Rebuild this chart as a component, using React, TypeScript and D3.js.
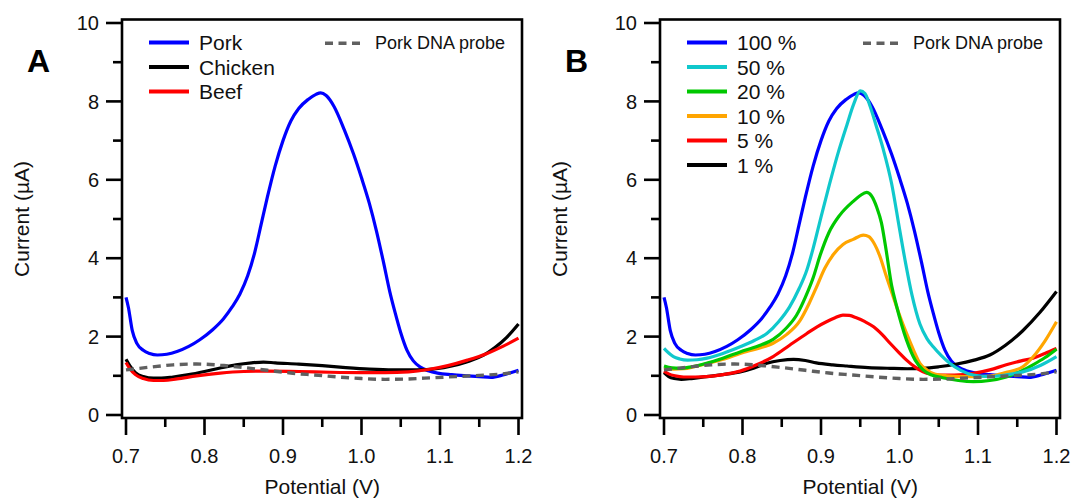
import React from "react";
import * as d3 from "d3";

type Pt = [number, number];

// Potential (V), current (µA) pairs
const pork: Pt[] = [
  [0.700, 3.00], [0.703, 2.75], [0.708, 2.15], [0.714, 1.82], [0.722, 1.65], [0.730, 1.57],
  [0.740, 1.53], [0.752, 1.55], [0.765, 1.62], [0.780, 1.75], [0.794, 1.92], [0.810, 2.17],
  [0.824, 2.45], [0.835, 2.75], [0.845, 3.08], [0.855, 3.55], [0.864, 4.15], [0.872, 4.85],
  [0.880, 5.55], [0.890, 6.35], [0.900, 7.00], [0.910, 7.50], [0.920, 7.82], [0.932, 8.05],
  [0.942, 8.18], [0.948, 8.22], [0.955, 8.15], [0.965, 7.87], [0.978, 7.28], [0.990, 6.65],
  [1.000, 6.05], [1.010, 5.40], [1.019, 4.70], [1.028, 3.90], [1.036, 3.15], [1.043, 2.60],
  [1.050, 2.10], [1.058, 1.65], [1.066, 1.38], [1.075, 1.22], [1.085, 1.13], [1.097, 1.07],
  [1.115, 1.03], [1.135, 1.00], [1.150, 0.98], [1.165, 0.96], [1.180, 1.02], [1.190, 1.08],
  [1.200, 1.14],
];

const chicken: Pt[] = [
  [0.700, 1.42], [0.705, 1.25], [0.712, 1.08], [0.722, 0.98], [0.735, 0.94], [0.745, 0.94],
  [0.760, 0.97], [0.780, 1.03], [0.800, 1.11], [0.820, 1.20], [0.840, 1.28], [0.860, 1.33],
  [0.875, 1.35], [0.890, 1.33], [0.920, 1.30], [0.950, 1.26], [0.980, 1.21], [1.010, 1.17],
  [1.040, 1.15], [1.070, 1.15], [1.095, 1.18], [1.115, 1.25], [1.135, 1.36], [1.155, 1.52],
  [1.170, 1.72], [1.185, 1.98], [1.200, 2.32],
];

const beef: Pt[] = [
  [0.700, 1.34], [0.705, 1.18], [0.712, 1.03], [0.722, 0.93], [0.735, 0.88], [0.748, 0.88],
  [0.765, 0.92], [0.790, 1.00], [0.820, 1.07], [0.850, 1.11], [0.880, 1.12], [0.920, 1.11],
  [0.960, 1.09], [1.000, 1.08], [1.030, 1.08], [1.060, 1.10], [1.085, 1.16], [1.110, 1.26],
  [1.135, 1.40], [1.160, 1.57], [1.180, 1.75], [1.200, 1.96],
];

const probe: Pt[] = [
  [0.700, 1.15], [0.730, 1.22], [0.760, 1.28], [0.790, 1.30], [0.820, 1.27], [0.850, 1.21],
  [0.880, 1.14], [0.910, 1.07], [0.940, 1.02], [0.970, 0.97], [1.000, 0.93], [1.030, 0.91],
  [1.060, 0.92], [1.090, 0.95], [1.120, 0.98], [1.150, 1.01], [1.175, 1.04], [1.200, 1.10],
];

const pct50: Pt[] = [
  [0.700, 1.70], [0.706, 1.58], [0.712, 1.49], [0.720, 1.43], [0.730, 1.40], [0.742, 1.41],
  [0.755, 1.45], [0.775, 1.57], [0.797, 1.74], [0.815, 1.90], [0.831, 2.08], [0.846, 2.38],
  [0.860, 2.76], [0.872, 3.22], [0.882, 3.70], [0.890, 4.25], [0.900, 5.05], [0.911, 5.90],
  [0.922, 6.70], [0.933, 7.40], [0.942, 7.95], [0.950, 8.27], [0.956, 8.20], [0.962, 7.91],
  [0.970, 7.40], [0.979, 6.80], [0.990, 5.90], [1.000, 4.75], [1.008, 3.85], [1.016, 3.05],
  [1.026, 2.32], [1.035, 1.95], [1.043, 1.74], [1.053, 1.52], [1.064, 1.32], [1.078, 1.14],
  [1.094, 1.02], [1.115, 0.98], [1.135, 1.02], [1.157, 1.10], [1.180, 1.27], [1.200, 1.49],
];

const pct20: Pt[] = [
  [0.700, 1.25], [0.710, 1.20], [0.720, 1.19], [0.735, 1.23], [0.754, 1.32], [0.775, 1.45],
  [0.797, 1.61], [0.820, 1.76], [0.839, 1.93], [0.855, 2.20], [0.869, 2.55], [0.880, 3.00],
  [0.890, 3.50], [0.899, 4.08], [0.910, 4.65], [0.924, 5.10], [0.941, 5.45], [0.950, 5.60],
  [0.958, 5.68], [0.964, 5.60], [0.971, 5.30], [0.977, 4.90], [0.983, 4.20], [0.990, 3.30],
  [0.996, 2.80], [1.009, 1.91], [1.020, 1.40], [1.030, 1.15], [1.041, 1.02], [1.055, 0.95],
  [1.075, 0.88], [1.094, 0.85], [1.115, 0.88], [1.136, 0.97], [1.155, 1.12], [1.170, 1.28],
  [1.185, 1.46], [1.200, 1.68],
];

const pct10: Pt[] = [
  [0.700, 1.20], [0.712, 1.17], [0.725, 1.18], [0.740, 1.24], [0.760, 1.34], [0.780, 1.45],
  [0.797, 1.57], [0.820, 1.70], [0.839, 1.83], [0.856, 2.05], [0.873, 2.40], [0.885, 2.85],
  [0.894, 3.25], [0.905, 3.75], [0.916, 4.10], [0.928, 4.35], [0.941, 4.48], [0.954, 4.59],
  [0.961, 4.55], [0.967, 4.40], [0.975, 4.05], [0.983, 3.55], [0.992, 3.02], [1.000, 2.55],
  [1.009, 2.08], [1.018, 1.65], [1.026, 1.32], [1.035, 1.15], [1.043, 1.06], [1.060, 1.00],
  [1.080, 0.98], [1.100, 0.98], [1.115, 0.99], [1.135, 1.08], [1.157, 1.23], [1.170, 1.48],
  [1.185, 1.88], [1.200, 2.38],
];

const pct5: Pt[] = [
  [0.700, 1.12], [0.706, 1.05], [0.714, 1.00], [0.725, 0.97], [0.740, 0.97], [0.754, 0.98],
  [0.775, 1.03], [0.797, 1.12], [0.818, 1.28], [0.839, 1.49], [0.860, 1.78], [0.882, 2.08],
  [0.895, 2.25], [0.907, 2.38], [0.918, 2.48], [0.928, 2.55], [0.936, 2.54], [0.945, 2.48],
  [0.956, 2.38], [0.967, 2.25], [0.978, 2.05], [0.988, 1.83], [0.999, 1.60], [1.009, 1.40],
  [1.020, 1.22], [1.030, 1.10], [1.040, 1.04], [1.051, 1.02], [1.070, 1.02], [1.094, 1.06],
  [1.115, 1.15], [1.136, 1.28], [1.155, 1.38], [1.170, 1.45], [1.185, 1.57], [1.200, 1.70],
];

const pct1: Pt[] = [
  [0.700, 1.08], [0.706, 0.98], [0.713, 0.93], [0.722, 0.91], [0.735, 0.93], [0.754, 0.98],
  [0.775, 1.03], [0.797, 1.10], [0.815, 1.20], [0.831, 1.32], [0.848, 1.39], [0.865, 1.42],
  [0.880, 1.39], [0.894, 1.33], [0.915, 1.28], [0.933, 1.25], [0.960, 1.21], [0.988, 1.19],
  [1.010, 1.18], [1.030, 1.19], [1.050, 1.23], [1.073, 1.30], [1.095, 1.40], [1.115, 1.53],
  [1.135, 1.78], [1.157, 2.15], [1.179, 2.62], [1.200, 3.15],
];

const xTicks = [0.7, 0.75, 0.8, 0.85, 0.9, 0.95, 1.0, 1.05, 1.1, 1.15, 1.2];
const yTicks = [0, 1, 2, 3, 4, 5, 6, 7, 8, 9, 10];

const BLUE = "#0000ff";
const CYAN = "#10c8cc";
const GREEN = "#00c800";
const ORANGE = "#ffa500";
const RED = "#ff0000";
const BLACK = "#000000";
const GRAY = "#606060";

type Series = { name: string; data: Pt[]; color: string };

const seriesA: Series[] = [
  { name: "Pork", data: pork, color: BLUE },
  { name: "Chicken", data: chicken, color: BLACK },
  { name: "Beef", data: beef, color: RED },
];
const drawOrderA = [0, 1, 2];

const seriesB: Series[] = [
  { name: "100 %", data: pork, color: BLUE },
  { name: "50 %", data: pct50, color: CYAN },
  { name: "20 %", data: pct20, color: GREEN },
  { name: "10 %", data: pct10, color: ORANGE },
  { name: "5 %", data: pct5, color: RED },
  { name: "1 %", data: pct1, color: BLACK },
];
const drawOrderB = [0, 5, 4, 3, 2, 1];

const FONT = "'Liberation Sans', Arial, Helvetica, sans-serif";

function Panel({ dx, letter, series, order }: { dx: number; letter: string; series: Series[]; order: number[] }) {
  const x = d3.scaleLinear().domain([0.7, 1.2]).range([126 + dx, 518.5 + dx]);
  const y = d3.scaleLinear().domain([0, 10]).range([415, 23]);
  const line = d3
    .line<Pt>()
    .x((d) => x(d[0]))
    .y((d) => y(d[1]))
    .curve(d3.curveMonotoneX);
  const frameL = 122 + dx;
  const frameR = 522 + dx;
  const frameT = 19.5;
  const frameB = 418;
  const fmt = d3.format(".1f");
  return (
    <g>
      {order.map((i) => (
        <path
          key={series[i].name}
          d={line(series[i].data) || ""}
          fill="none"
          stroke={series[i].color}
          strokeWidth={3.2}
          strokeLinejoin="round"
        />
      ))}
      <path d={line(probe) || ""} fill="none" stroke={GRAY} strokeWidth={3.4} strokeDasharray="8 5.5" />
      <rect
        x={frameL}
        y={frameT}
        width={frameR - frameL}
        height={frameB - frameT}
        fill="none"
        stroke="#000"
        strokeWidth={2.6}
      />
      {yTicks.map((v) => (
        <g key={"y" + v}>
          <line
            x1={frameL - (v % 2 === 0 ? 16 : 9)}
            x2={frameL}
            y1={y(v)}
            y2={y(v)}
            stroke="#000"
            strokeWidth={2.6}
          />
          {v % 2 === 0 && (
            <text x={99 + dx} y={y(v)} dy="0.36em" textAnchor="end" fontSize={20} fontFamily={FONT} fill="#111">
              {v}
            </text>
          )}
        </g>
      ))}
      {xTicks.map((v, i) => (
        <g key={"x" + v}>
          <line
            x1={x(v)}
            x2={x(v)}
            y1={frameB}
            y2={frameB + (i % 2 === 0 ? 17 : 9)}
            stroke="#000"
            strokeWidth={2.6}
          />
          {i % 2 === 0 && (
            <text x={x(v)} y={463} textAnchor="middle" fontSize={20} fontFamily={FONT} fill="#111">
              {fmt(v)}
            </text>
          )}
        </g>
      ))}
      <text x={(x(0.7) + x(1.2)) / 2} y={494} textAnchor="middle" fontSize={21} fontFamily={FONT} fill="#111">
        Potential (V)
      </text>
      <text
        transform={`translate(${29 + dx},${(y(0) + y(10)) / 2}) rotate(-90)`}
        textAnchor="middle"
        fontSize={21}
        fontFamily={FONT}
        fill="#111"
      >
        Current (µA)
      </text>
      <text x={27 + dx} y={72} fontSize={32} fontWeight="bold" fontFamily={FONT} fill="#000">
        {letter}
      </text>
      {series.map((s, i) => {
        const ly = 42.5 + i * 24.5;
        return (
          <g key={"lg" + s.name}>
            <line x1={149 + dx} x2={189 + dx} y1={ly} y2={ly} stroke={s.color} strokeWidth={4} />
            <text x={199 + dx} y={ly + 7.5} fontSize={21} fontFamily={FONT} fill="#111">
              {s.name}
            </text>
          </g>
        );
      })}
      <line x1={325 + dx} x2={360 + dx} y1={43.3} y2={43.3} stroke={GRAY} strokeWidth={3.6} strokeDasharray="8 5.5" />
      <text x={375 + dx} y={48.5} fontSize={18} fontFamily={FONT} fill="#111">
        Pork DNA probe
      </text>
    </g>
  );
}

export default function App() {
  return (
    <svg
      width={1072}
      height={499}
      viewBox="0 0 1072 499"
      style={{ position: "absolute", left: 0, top: 0, background: "#fff" }}
    >
      <rect x={0} y={0} width={1072} height={499} fill="#fff" />
      <Panel dx={0} letter="A" series={seriesA} order={drawOrderA} />
      <Panel dx={538} letter="B" series={seriesB} order={drawOrderB} />
    </svg>
  );
}
